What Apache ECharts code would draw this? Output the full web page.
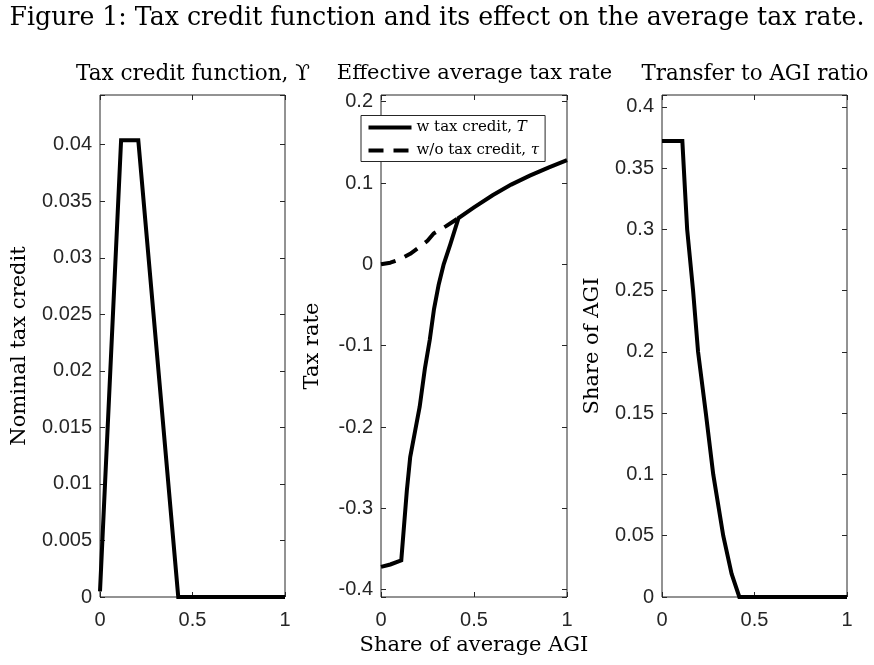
<!DOCTYPE html>
<html><head><meta charset="utf-8">
<script src="https://cdn.jsdelivr.net/npm/echarts@6/dist/echarts.min.js"></script>
<style>html,body{margin:0;padding:0;background:#fff}#c{width:874px;height:665px}</style>
</head><body><div id="c"></div>
<script>
// ---------------- data ----------------
const figTitle = 'Figure 1: Tax credit function and its effect on the average tax rate.';
const panelTitles = ['Tax credit function, \u03D2', 'Effective average tax rate', 'Transfer to AGI ratio'];
const yNames = ['Nominal tax credit', 'Tax rate', 'Share of AGI'];
const xName = 'Share of average AGI';
const legendNames = ['w tax credit, T', 'w/o tax credit, \u03C4'];

const xTicks = [0, 0.5, 1];
const creditTicks = [0, 0.005, 0.01, 0.015, 0.02, 0.025, 0.03, 0.035, 0.04];
const rateTicks = [-0.4, -0.3, -0.2, -0.1, 0, 0.1, 0.2];
const transferTicks = [0, 0.05, 0.1, 0.15, 0.2, 0.25, 0.3, 0.35, 0.4];

// panel 1: nominal tax credit
const creditX = [0, 0.114, 0.207, 0.423, 1];
const creditY = [0.0005, 0.0404, 0.0404, 0, 0];

// panel 2: effective average tax rate with credit (T)
const rateWithX = [0, 0.05, 0.109, 0.139, 0.157, 0.184, 0.208, 0.236, 0.262, 0.285, 0.31, 0.337, 0.373, 0.417, 0.5, 0.6, 0.7, 0.8, 0.9, 1.0];
const rateWithY = [-0.372, -0.369, -0.364, -0.278, -0.237, -0.204, -0.175, -0.128, -0.093, -0.055, -0.025, 0.0, 0.025, 0.057, 0.070, 0.085, 0.098, 0.109, 0.119, 0.128];
// panel 2: without credit (tau)
const rateWithoutX = [0, 0.05, 0.1, 0.157, 0.2, 0.25, 0.283, 0.35, 0.417];
const rateWithoutY = [0, 0.002, 0.006, 0.013, 0.02, 0.029, 0.038, 0.047, 0.057];

// panel 3: transfer to AGI ratio
const transferX = [0, 0.11, 0.125, 0.136, 0.168, 0.195, 0.237, 0.277, 0.331, 0.376, 0.418, 1];
const transferY = [0.372, 0.372, 0.33, 0.30, 0.25, 0.20, 0.15, 0.10, 0.05, 0.019, 0, 0];

// ---------------- styling ----------------
const SERIF = '"DejaVu Serif", serif';
const SANS = '"Liberation Sans", Arial, sans-serif';
const AX = '#262626';
const LW = 4;
const cv = document.createElement('canvas').getContext('2d');
function fit(text, fam, w) { cv.font = '100px ' + fam; return Math.round(1000 * w / cv.measureText(text).width) / 10; }

const tickFont = fit('0.035', SANS, 50);
const labelFont = fit(xName, SERIF, 229);
const figFont = fit(figTitle, SERIF, 854);
const legFont = fit('w tax credit, T', SERIF, 110);

const grids = [
  {left: 100, top: 95, width: 185, height: 502},
  {left: 381, top: 95, width: 186, height: 502},
  {left: 662, top: 95, width: 185, height: 502}
];
const yRanges = [[0, 0.0444], [-0.409, 0.2082], [0, 0.4096]];
const yTickLists = [creditTicks, rateTicks, transferTicks];
const yNameGaps = [70, 58, 59];
const titleCenters = [193, 474.5, 755];
const titleWidths = [234, 275, 227];

const fmt = v => String(+v.toFixed(4));
function pickLabel(list) {
  return v => { const t = list.find(t => Math.abs(t - v) < 1e-7); return t === undefined ? '' : fmt(t); };
}

const xAxes = [], yAxes = [];
['bottom', 'top'].forEach(pos => grids.forEach((g, i) => {
  xAxes.push({
    type: 'value', gridIndex: i, position: pos,
    min: xTicks[0], max: xTicks[xTicks.length - 1], interval: xTicks[1] - xTicks[0],
    axisLine: {show: false, onZero: false}, splitLine: {show: false},
    axisTick: {show: true, inside: true, length: 5, lineStyle: {color: AX, width: 1}},
    axisLabel: {show: pos === 'bottom', margin: 13, fontFamily: SANS, fontSize: tickFont, color: AX, formatter: pickLabel(xTicks)},
    name: (pos === 'bottom' && i === 1) ? xName : '', nameLocation: 'middle', nameGap: 38,
    nameTextStyle: {fontFamily: SERIF, fontSize: labelFont, color: '#000'}
  });
}));
['left', 'right'].forEach(pos => grids.forEach((g, i) => {
  const list = yTickLists[i];
  const ax = {
    type: 'value', gridIndex: i, position: pos,
    min: yRanges[i][0], max: yRanges[i][1],
    axisLine: {show: false, onZero: false}, splitLine: {show: false},
    axisTick: {show: true, inside: true, length: 5, lineStyle: {color: AX, width: 1}},
    axisLabel: {show: pos === 'left', margin: 8, fontFamily: SANS, fontSize: tickFont, color: AX, formatter: pickLabel(list),
      showMinLabel: true, showMaxLabel: true},
    name: pos === 'left' ? yNames[i] : '', nameLocation: 'middle', nameGap: yNameGaps[i], nameRotate: 90,
    nameTextStyle: {fontFamily: SERIF, fontSize: labelFont, color: '#000'}
  };
  if (list[0] % (list[1] - list[0]) === 0 && yRanges[i][0] === list[0]) {
    ax.interval = +(list[1] - list[0]).toFixed(6);
  } else {
    ax.splitNumber = list.length - 1;
  }
  yAxes.push(ax);
}));

const zip = (xs, ys) => xs.map((x, k) => [x, ys[k]]);
const lineBase = {type: 'line', symbol: 'none', showSymbol: false, silent: true, animation: false, clip: true};

const series = [
  Object.assign({}, lineBase, {name: 'credit', xAxisIndex: 0, yAxisIndex: 0, data: zip(creditX, creditY),
    lineStyle: {color: '#000', width: LW, join: 'miter'}}),
  Object.assign({}, lineBase, {name: legendNames[1], xAxisIndex: 1, yAxisIndex: 1, data: zip(rateWithoutX, rateWithoutY),
    itemStyle: {color: '#000'}, lineStyle: {color: '#000', width: LW, type: [15, 10], cap: 'butt'}}),
  Object.assign({}, lineBase, {name: legendNames[0], xAxisIndex: 1, yAxisIndex: 1, data: zip(rateWithX, rateWithY),
    itemStyle: {color: '#000'}, lineStyle: {color: '#000', width: LW, join: 'miter'}}),
  Object.assign({}, lineBase, {name: 'transfer', xAxisIndex: 2, yAxisIndex: 2, data: zip(transferX, transferY),
    lineStyle: {color: '#000', width: LW, join: 'miter'}})
];

const graphic = [
  {type: 'text', x: 437, y: 18, style: {text: figTitle, font: figFont + 'px ' + SERIF, fill: '#000',
    align: 'center', verticalAlign: 'middle', textAlign: 'center', textVerticalAlign: 'middle'}}
];
panelTitles.forEach((t, i) => graphic.push({type: 'text', x: titleCenters[i], y: 74,
  style: {text: t, font: fit(t, SERIF, titleWidths[i]) + 'px ' + SERIF, fill: '#000',
    align: 'center', verticalAlign: 'middle', textAlign: 'center', textVerticalAlign: 'middle'}}));

const chart = echarts.init(document.getElementById('c'), null, {renderer: 'canvas'});
chart.setOption({
  backgroundColor: '#fff',
  animation: false,
  grid: grids.map(g => Object.assign({show: true, borderColor: AX, borderWidth: 1, backgroundColor: 'transparent'}, g)),
  xAxis: xAxes,
  yAxis: yAxes,
  legend: {
    data: legendNames, orient: 'vertical', left: 361, top: 115.5,
    padding: [4.5, 6, 3.5, 5.5], itemGap: 8, itemWidth: 43, itemHeight: 14,
    backgroundColor: '#fff', borderColor: AX, borderWidth: 1, borderRadius: 0,
    selectedMode: false,
    itemStyle: {color: 'rgba(0,0,0,0)', borderColor: 'rgba(0,0,0,0)', borderWidth: 0},
    lineStyle: {width: LW},
    textStyle: {fontFamily: SERIF, fontSize: legFont, color: '#000', lineHeight: 14,
      rich: {i: {fontFamily: SERIF, fontSize: legFont, fontStyle: 'italic', color: '#000', lineHeight: 14}}},
    formatter: n => n.replace(/, (\S)$/, ', {i|$1}')
  },
  graphic: graphic,
  series: series
});
</script>
</body></html>
